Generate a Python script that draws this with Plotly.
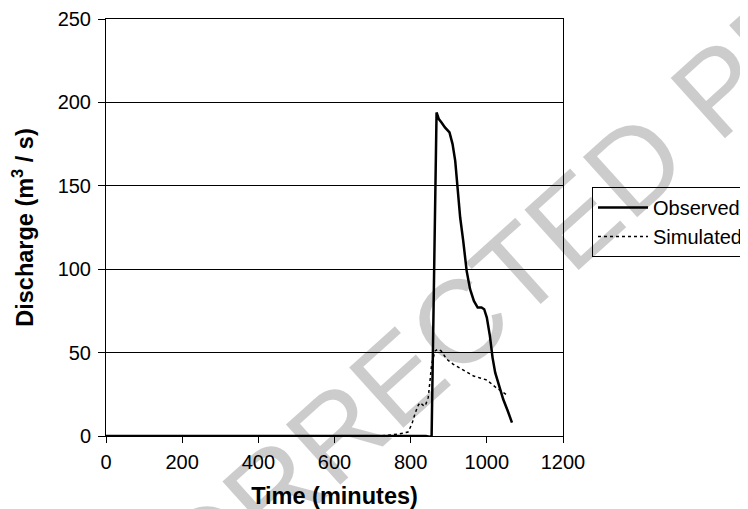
import plotly.graph_objects as go

# Observed hydrograph (time in minutes, discharge in m3/s)
obs_time = [0, 300, 600, 840, 850, 855, 868, 874, 881, 890, 902, 910, 917, 923, 930, 938,
            947, 956, 966, 976, 986, 993, 1000, 1008, 1015, 1022, 1032, 1043, 1055, 1066]
obs_q = [0, 0, 0, 0, -0.5, 0, 194, 190, 188, 185, 182, 175, 165, 150, 131, 117,
         99, 88, 81, 77, 77, 76, 71, 60, 47, 38, 30, 22, 15, 8]

# Simulated hydrograph
sim_time = [0, 300, 600, 720, 746, 770, 793, 803, 812, 820, 825, 832, 838, 846, 851, 855,
            864, 872, 880, 895, 912, 930, 947, 965, 982, 1000, 1022, 1040, 1053]
sim_q = [0, 0, 0, 0, 0.6, 1.2, 2.4, 7, 13.8, 18.5, 20, 18.5, 18, 23, 33.6, 43,
         51, 52, 51, 46, 43, 40.6, 38.4, 36, 34.8, 33.6, 29.4, 26.5, 24.6]

x_ticks = [0, 200, 400, 600, 800, 1000, 1200]
y_ticks = [0, 50, 100, 150, 200, 250]

FONT = "Liberation Sans, Arial, Helvetica, sans-serif"

# The page body adds an 8px offset, so the figure is 8px smaller than the window.
W, H = 740, 501
ML, MT, MR, MB = 98, 11, 185, 73
PW, PH = W - ML - MR, H - MT - MB


def px_to_paper(px, py):
    # page pixel -> paper coordinates
    return (px - 8 - ML) / PW, 1 - (py - 8 - MT) / PH


fig = go.Figure()
fig.add_trace(go.Scatter(x=obs_time, y=obs_q, mode="lines", name="Observed",
                         line=dict(color="black", width=2.5), cliponaxis=False))
fig.add_trace(go.Scatter(x=sim_time, y=sim_q, mode="lines", name="Simulated",
                         line=dict(color="black", width=1.5, dash="3px,3px"), cliponaxis=False))

lx, ly = px_to_paper(592, 187)
wx, wy = px_to_paper(493, 292)

fig.update_layout(
    width=W, height=H,
    margin=dict(l=ML, r=MR, t=MT, b=MB, autoexpand=False),
    paper_bgcolor="white", plot_bgcolor="white",
    font=dict(family=FONT, size=20, color="black"),
    showlegend=True,
    legend=dict(x=lx, y=ly, xanchor="left", yanchor="top",
                bordercolor="black", borderwidth=1, bgcolor="white",
                font=dict(size=20), tracegroupgap=0, itemwidth=50),
    xaxis=dict(range=[0, 1200], tickvals=x_ticks, ticktext=[str(v) for v in x_ticks],
               showgrid=False, zeroline=False, showline=True, linecolor="black", linewidth=1,
               mirror=True, ticks="outside", ticklen=6, tickcolor="black",
               tickfont=dict(size=20), ticklabelstandoff=2,
               title=dict(text="<b>Time (minutes)</b>", font=dict(size=23.5), standoff=15)),
    yaxis=dict(range=[0, 250], tickvals=y_ticks, ticktext=[str(v) for v in y_ticks],
               showgrid=True, gridcolor="black", gridwidth=1, zeroline=False,
               showline=True, linecolor="black", linewidth=1, mirror=True,
               ticks="outside", ticklen=7, tickcolor="black", tickfont=dict(size=20),
               ticklabelstandoff=3,
               title=dict(text="<b>Discharge (m<sup>3</sup> / s)</b>", font=dict(size=23.5), standoff=20)),
    annotations=[dict(text="UNCORRECTED PROOF", xref="paper", yref="paper",
                      x=wx, y=wy, xanchor="center", yanchor="middle",
                      showarrow=False, textangle=-42,
                      font=dict(family=FONT, size=118, color="rgba(0,0,0,0.2)"))],
)

fig.write_html("out.html")
